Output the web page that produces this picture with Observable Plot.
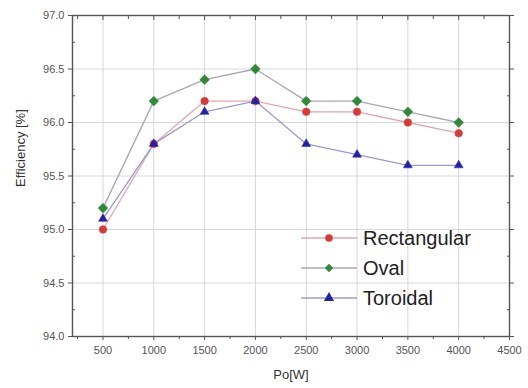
<!DOCTYPE html>
<html><head><meta charset="utf-8">
<script src="https://cdn.jsdelivr.net/npm/d3@7"></script>
<script src="https://cdn.jsdelivr.net/npm/@observablehq/plot@0.6"></script>
<style>
body{margin:0;background:#fff;font-family:"Liberation Sans",Arial,sans-serif}
#wrap{position:relative;width:528px;height:388px}
#legend{position:absolute;left:301px;top:223px;font-size:20px;color:#222}
#legend div{height:30px;display:flex;align-items:center}
</style></head><body>
<div id="wrap"><div id="chart"></div><div id="legend"></div></div>
<script>
const power = [500, 1000, 1500, 2000, 2500, 3000, 3500, 4000];
const rectangular = [95.0, 95.8, 96.2, 96.2, 96.1, 96.1, 96.0, 95.9];
const oval = [95.2, 96.2, 96.4, 96.5, 96.2, 96.2, 96.1, 96.0];
const toroidal = [95.1, 95.8, 96.1, 96.2, 95.8, 95.7, 95.6, 95.6];
const seriesNames = ["Rectangular", "Oval", "Toroidal"];
const xTicks = [500, 1000, 1500, 2000, 2500, 3000, 3500, 4000, 4500];
const yTicks = [94.0, 94.5, 95.0, 95.5, 96.0, 96.5, 97.0];

const styles = {
  Rectangular: {line: "#e0a8b0", fill: "#d83a3a", symbol: "circle", r: 3.8},
  Oval: {line: "#a8a8b0", fill: "#2e8a36", symbol: "diamond2", r: 4.4},
  Toroidal: {line: "#9a9ad0", fill: "#2222a8", symbol: "triangle", r: 3.3}
};
const values = {Rectangular: rectangular, Oval: oval, Toroidal: toroidal};
const data = seriesNames.flatMap(s => power.map((p, i) => ({series: s, x: p, y: values[s][i]})));

const xMinor = d3.range(250, 4501, 250).filter(v => !xTicks.includes(v));
const yMinor = d3.range(94.25, 97, 0.5);
const none = () => "";

const marks = [
  Plot.gridX(xTicks, {stroke: "#d8d8d8", strokeOpacity: 1}),
  Plot.gridY(yTicks, {stroke: "#d8d8d8", strokeOpacity: 1}),
  Plot.frame({stroke: "#555", strokeWidth: 1.4}),
  Plot.axisX(xTicks, {anchor: "bottom", tickSize: 4, tickPadding: 6, fontSize: 11, color: "#555", stroke: "#555", tickFormat: d3.format("d"), label: null}),
  Plot.axisX(xMinor, {anchor: "bottom", tickSize: 3, tickFormat: none, stroke: "#555", label: null}),
  Plot.axisX(xTicks, {anchor: "top", tickSize: -4, tickFormat: none, stroke: "#555", label: null}),
  Plot.axisX(xMinor, {anchor: "top", tickSize: -3, tickFormat: none, stroke: "#555", label: null}),
  Plot.axisY(yTicks, {anchor: "left", tickSize: 4, tickPadding: 4, fontSize: 11, color: "#555", stroke: "#555", tickFormat: d3.format(".1f"), label: null}),
  Plot.axisY(yMinor, {anchor: "left", tickSize: -3, tickFormat: none, stroke: "#555", label: null}),
  Plot.axisY(yTicks, {anchor: "right", tickSize: 4, tickFormat: none, stroke: "#555", label: null}),
  Plot.axisY(yMinor, {anchor: "right", tickSize: -3, tickFormat: none, stroke: "#555", label: null})
];
for (const s of seriesNames) {
  const d = data.filter(e => e.series === s);
  const st = styles[s];
  marks.push(Plot.line(d, {x: "x", y: "y", stroke: st.line, strokeWidth: 1.3}));
}
for (const s of seriesNames) {
  const d = data.filter(e => e.series === s);
  const st = styles[s];
  marks.push(Plot.dot(d, {x: "x", y: "y", symbol: () => st.symbol, fill: st.fill, stroke: st.fill, r: st.r, strokeWidth: 0.5}));
}
marks.push(Plot.text(["Po[W]"], {frameAnchor: "bottom", dy: 42, fontSize: 13, fill: "#333"}));
marks.push(Plot.text(["Efficiency [%]"], {frameAnchor: "left", dx: -52, dy: 11, rotate: -90, fontSize: 13, fill: "#333"}));

const chart = Plot.plot({
  width: 528, height: 388,
  marginLeft: 72, marginTop: 15, marginRight: 19, marginBottom: 52,
  style: {fontFamily: "'Liberation Sans', Arial, sans-serif", background: "#fff"},
  x: {domain: [200, 4500]},
  y: {domain: [94.0, 97.0]},
  symbol: {type: "identity"},
  marks
});
document.getElementById("chart").append(chart);

// legend
const leg = d3.select("#legend");
for (const s of seriesNames) {
  const st = styles[s];
  const row = leg.append("div");
  const svg = row.append("svg").attr("width", 56).attr("height", 14).style("margin-right", "6px");
  svg.append("line").attr("x1", 0).attr("x2", 56).attr("y1", 7).attr("y2", 7).attr("stroke", st.line).attr("stroke-width", 1.3);
  svg.append("path").attr("transform", "translate(28,7)")
    .attr("d", d3.symbol(st.symbol === "circle" ? d3.symbolCircle : st.symbol === "diamond2" ? d3.symbolDiamond2 : d3.symbolTriangle, 45)())
    .attr("fill", st.fill);
  row.append("span").text(s);
}
</script></body></html>
